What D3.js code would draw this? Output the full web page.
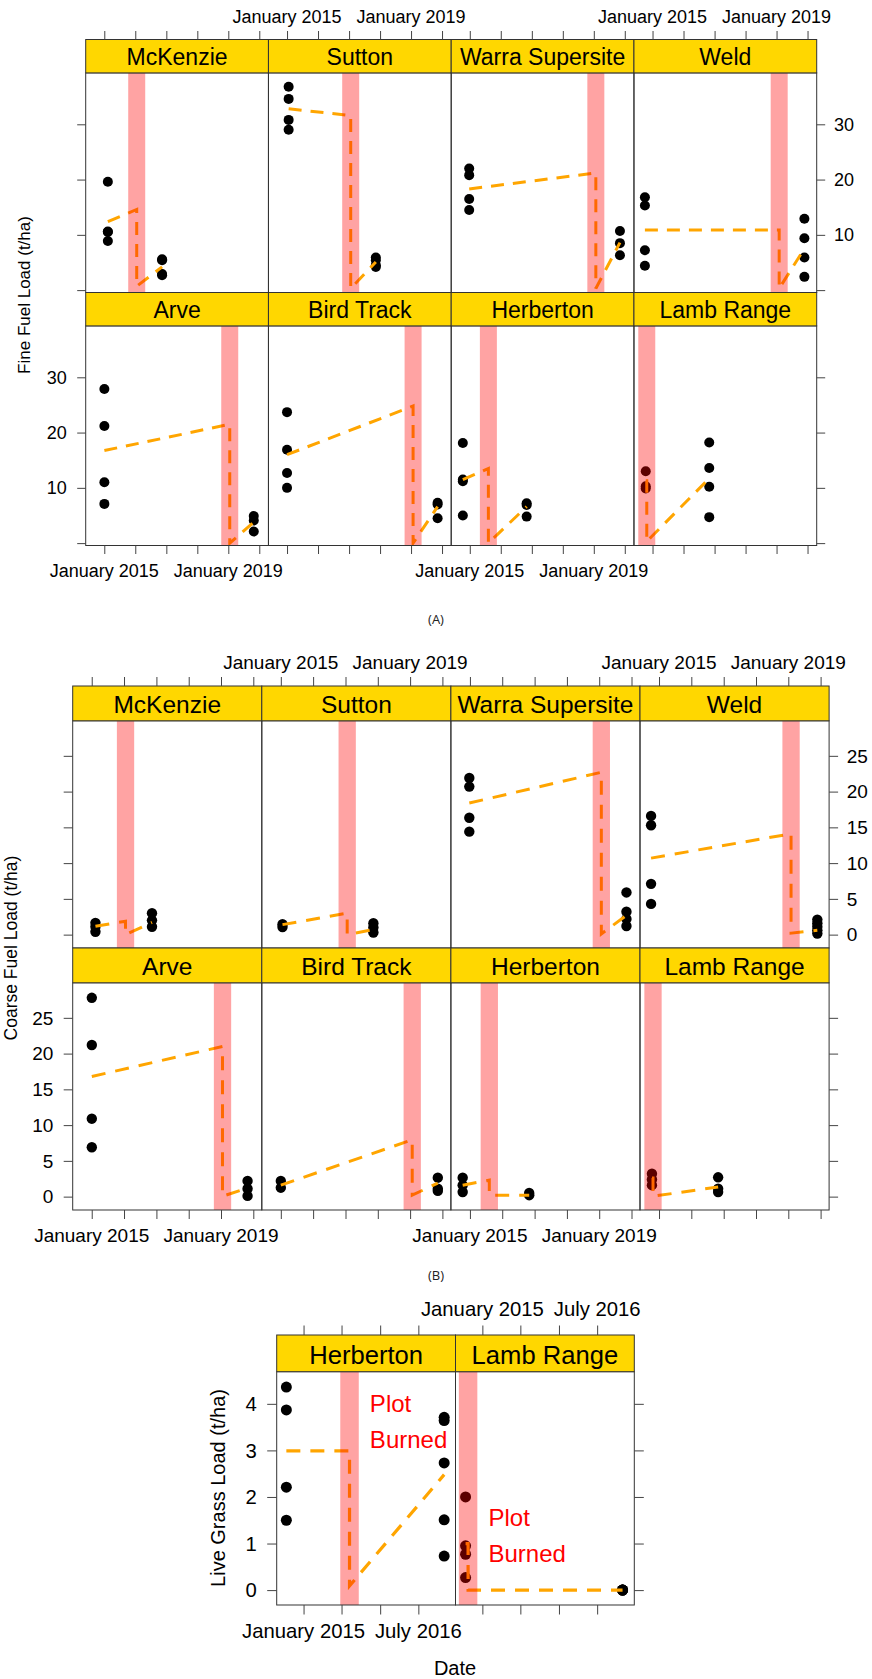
<!DOCTYPE html>
<html><head><meta charset="utf-8">
<script src="https://cdn.jsdelivr.net/npm/d3@7"></script>
<style>body{margin:0;background:#fff} svg{display:block}</style>
</head><body>
<svg id="chart" width="872" height="1679"></svg>
<script>
// ---------------- DATA ----------------
const sites = ["McKenzie","Sutton","Warra Supersite","Weld","Arve","Bird Track","Herberton","Lamb Range"];
const firstSample  = ["2015-02-12","2015-01-20","2014-12-25","2014-10-03","2015-01-02","2015-01-01","2014-10-11","2014-10-13"];
const secondSample = ["2016-11-12","2017-11-12","2019-11-05","2019-11-25","2019-10-28","2019-11-10","2016-11-01","2016-10-30"];
const fireDate     = ["2016-01-18","2017-01-20","2019-01-25","2019-02-01","2019-01-18","2019-01-25","2015-08-08","2014-10-25"];

const fineBefore = [
  [19.6, 10.6, 10.5, 8.9],
  [36.8, 34.6, 30.8, 29.0],
  [22.0, 20.8, 16.5, 14.5],
  [16.8, 15.3, 7.2, 4.4],
  [27.9, 21.2, 11.0, 7.1],
  [23.7, 16.9, 12.7, 10.0],
  [18.1, 11.5, 11.2, 5.0],
  [13.0, 10.3, 9.9]
];
const fineAfter = [
  [5.6, 5.4, 2.9, 2.7],
  [5.9, 5.4, 4.5, 4.2],
  [10.7, 8.5, 6.3],
  [12.9, 9.4, 5.9, 2.4],
  [4.9, 4.1, 2.1],
  [7.3, 7.0, 4.5],
  [7.2, 6.9, 4.8],
  [18.2, 13.6, 10.2, 4.7]
];
// trend line: [at first sample, just before fire, just after fire, at second sample]
const fineLine = [
  [12.4, 14.6, 0.7, 4.2],
  [32.8, 31.6, 0.3, 5.1],
  [18.3, 21.2, 0.3, 8.6],
  [10.9, 10.9, 0.3, 7.5],
  [16.75, 21.5, 0.0, 3.8],
  [16.0, 24.8, 0.0, 6.6],
  [11.5, 13.5, 0.0, 6.6],
  [11.3, 11.3, 0.3, 11.7]
];

const coarseBefore = [
  [1.65, 1.1, 0.4],
  [1.45, 1.05],
  [21.9, 20.7, 16.35, 14.4],
  [16.6, 15.3, 7.1, 4.3],
  [27.8, 21.2, 10.9, 6.9],
  [2.2, 1.25],
  [2.65, 1.6, 0.65],
  [3.2, 2.4, 1.6]
];
const coarseAfter = [
  [3.0, 2.0, 1.1],
  [1.6, 1.0, 0.3],
  [5.9, 3.2, 2.2, 1.2],
  [2.1, 1.6, 1.1, 0.6, 0.15],
  [2.2, 1.1, 0.1],
  [2.65, 1.1, 0.8],
  [0.5, 0.2],
  [2.7, 1.1, 0.65]
];
const coarseLine = [
  [1.16, 1.87, 0.0, 1.7],
  [1.4, 3.0, 0.0, 0.7],
  [18.4, 22.7, 0.1, 2.7],
  [10.7, 14.1, 0.2, 0.6],
  [16.8, 21.0, 0.05, 1.2],
  [1.6, 7.95, 0.2, 1.9],
  [1.6, 2.3, 0.2, 0.2],
  [2.6, 2.6, 0.05, 1.35]
];

const grassSites = ["Herberton","Lamb Range"];
const grassBefore = [[4.36, 3.87, 2.21, 1.5],[2.0, 0.95, 0.77, 0.27]];
const grassAfter  = [[3.71, 3.64, 2.73, 1.51, 0.73],[0, 0, 0, 0]];
const grassLine   = [[2.99, 2.99, 0.09, 2.48],[1.0, 1.0, 0.0, 0.0]];
const grassNoteDate  = ["2015-11-13","2015-01-30"];
const grassNoteValue = [3.62, 1.17];
const grassNoteLines = ["Plot","Burned"];

const fineYTicks   = [0, 10, 20, 30];
const fineYLabels  = ["", "10", "20", "30"];
const coarseYTicks = [0, 5, 10, 15, 20, 25];
const coarseYLabels = ["0","5","10","15","20","25"];
const grassYTicks  = [0, 1, 2, 3, 4];
const grassYLabels = ["0","1","2","3","4"];
const yearTicks    = ["2015-01-01","2016-01-01","2017-01-01","2018-01-01","2019-01-01","2020-01-01"];
const yearLabels   = ["January 2015","","","","January 2019",""];
const grassXTicks  = ["2015-01-01","2015-07-01","2016-01-01","2016-07-01"];
const grassXLabels = ["January 2015","","","July 2016"];

// ---------------- DRAWING ----------------
const parse = d3.timeParse("%Y-%m-%d");
const svg = d3.select("#chart").attr("font-family","'Liberation Sans', Arial, sans-serif");
const FONT = "'Liberation Sans', Arial, sans-serif";

function drawChart(cfg, d) {
  const g = svg.append("g");
  const x = d3.scaleTime().domain(cfg.xDomain.map(parse)).range([0, cfg.panelW]);
  const y = d3.scaleLinear().domain(cfg.yDomain).range([cfg.panelH, 0]);
  const rowStrip = r => cfg.top + r * (cfg.stripH + cfg.panelH);
  const rowPanel = r => rowStrip(r) + cfg.stripH;
  const bottomY = rowPanel(cfg.rows - 1) + cfg.panelH;
  const rightX = cfg.left + cfg.cols * cfg.panelW;
  const xTickDates = d.xTicks.map(parse);

  d.sites.forEach((site, i) => {
    const r = Math.floor(i / cfg.cols), c = i % cfg.cols;
    const px = cfg.left + c * cfg.panelW, py = rowPanel(r);
    const p = g.append("g").attr("transform", `translate(${px},${py})`);
    const clipId = cfg.id + "clip" + i;
    p.append("clipPath").attr("id", clipId).append("rect")
      .attr("width", cfg.panelW).attr("height", cfg.panelH);
    const inner = p.append("g").attr("clip-path", `url(#${clipId})`);
    const d1 = parse(d.first[i]), d2 = parse(d.second[i]), df = parse(d.fire[i]);

    inner.append("g").selectAll("circle").data(d.before[i]).join("circle")
      .attr("cx", x(d1)).attr("cy", v => y(v)).attr("r", cfg.r).attr("fill", "#000");
    inner.append("g").selectAll("circle").data(d.after[i]).join("circle")
      .attr("cx", x(d2)).attr("cy", v => y(v)).attr("r", cfg.r).attr("fill", "#000");

    const L = d.line[i];
    const pts = [[d1, L[0]], [df, L[1]], [df, L[2]], [d2, L[3]]];
    inner.append("path")
      .attr("d", d3.line().x(q => x(q[0])).y(q => y(q[1]))(pts))
      .attr("fill", "none").attr("stroke", "#FFA500").attr("stroke-width", cfg.lw)
      .attr("stroke-dasharray", cfg.dash);

    inner.append("rect")
      .attr("x", x(df) - cfg.bandW / 2).attr("y", 0)
      .attr("width", cfg.bandW).attr("height", cfg.panelH)
      .attr("fill", "#FF0000").attr("fill-opacity", 0.36);

    if (d.notes) {
      const t = inner.append("text").attr("fill", "#FF0000").attr("font-size", cfg.noteFont)
        .attr("font-family", FONT);
      const nx = x(parse(d.notes.date[i])), ny = y(d.notes.value[i]);
      d.notes.lines.forEach((ln, k) => {
        const off = (k - (d.notes.lines.length - 1) / 2) * cfg.noteLH;
        t.append("tspan").attr("x", nx).attr("y", ny + off + cfg.noteFont * 0.36).text(ln);
      });
    }

    p.append("rect").attr("width", cfg.panelW).attr("height", cfg.panelH)
      .attr("fill", "none").attr("stroke", "#333").attr("stroke-width", 1);

    const s = g.append("g").attr("transform", `translate(${px},${rowStrip(r)})`);
    s.append("rect").attr("width", cfg.panelW).attr("height", cfg.stripH)
      .attr("fill", "#FFD700").attr("stroke", "#333").attr("stroke-width", 1);
    s.append("text").attr("x", cfg.panelW / 2).attr("y", cfg.stripH / 2 + cfg.stripBase)
      .attr("text-anchor", "middle").attr("font-size", cfg.stripFont).attr("fill", "#000").text(site);
  });

  const styleAxis = sel => {
    sel.select(".domain").remove();
    sel.selectAll(".tick line").attr("stroke", "#444").attr("stroke-width", 1);
  };

  for (let c = 0; c < cfg.cols; c++) {
    const ox = cfg.left + c * cfg.panelW;
    g.append("g").attr("transform", `translate(${ox},${cfg.top})`)
      .call(d3.axisTop(x).tickValues(xTickDates).tickSize(cfg.tickLen).tickFormat("")).call(styleAxis);
    g.append("g").attr("transform", `translate(${ox},${bottomY})`)
      .call(d3.axisBottom(x).tickValues(xTickDates).tickSize(cfg.tickLen).tickFormat("")).call(styleAxis);
    const top = (c % 2 === 1);
    xTickDates.forEach((dt, k) => {
      if (!d.xLabels[k]) return;
      g.append("text").attr("x", ox + x(dt)).attr("y", top ? cfg.topLabelY : cfg.bottomLabelY)
        .attr("text-anchor", "middle").attr("font-size", cfg.tickFont).attr("fill", "#000")
        .text(d.xLabels[k]);
    });
  }

  for (let r = 0; r < cfg.rows; r++) {
    const oy = rowPanel(r);
    g.append("g").attr("transform", `translate(${cfg.left},${oy})`)
      .call(d3.axisLeft(y).tickValues(d.yTicks).tickSize(cfg.tickLen).tickFormat("")).call(styleAxis);
    g.append("g").attr("transform", `translate(${rightX},${oy})`)
      .call(d3.axisRight(y).tickValues(d.yTicks).tickSize(cfg.tickLen).tickFormat("")).call(styleAxis);
    const leftLab = (r === cfg.rows - 1);
    const rightLab = (r === 0 && cfg.rows > 1);
    d.yTicks.forEach((v, k) => {
      if (!d.yLabels[k]) return;
      if (leftLab) g.append("text").attr("x", cfg.left - cfg.leftGap).attr("y", oy + y(v))
        .attr("dy", "0.36em").attr("text-anchor", "end").attr("font-size", cfg.tickFont).text(d.yLabels[k]);
      if (rightLab) g.append("text").attr("x", rightX + cfg.rightGap).attr("y", oy + y(v))
        .attr("dy", "0.36em").attr("text-anchor", "start").attr("font-size", cfg.tickFont).text(d.yLabels[k]);
    });
  }

  g.append("text").attr("transform", `translate(${cfg.yTitleX},${cfg.yTitleY}) rotate(-90)`)
    .attr("text-anchor", "middle").attr("font-size", cfg.titleFont).attr("fill", "#000").text(cfg.yTitle);
  if (cfg.caption) {
    g.append("text").attr("x", 436).attr("y", cfg.captionY).attr("text-anchor", "middle")
      .attr("font-family", "'Open Sans', 'Noto Sans', sans-serif").attr("font-size", 13)
      .attr("fill", "#222").text(cfg.caption);
  }
  if (cfg.xTitle) {
    g.append("text").attr("x", cfg.xTitleX).attr("y", cfg.xTitleY).attr("text-anchor", "middle")
      .attr("font-size", cfg.titleFont).attr("fill", "#000").text(cfg.xTitle);
  }
}

// Chart A: fine fuel
drawChart({
  id: "A", left: 85.7, top: 39.5, panelW: 182.75, stripH: 33.4, panelH: 219.6, rows: 2, cols: 4,
  xDomain: ["2014-05-27", "2020-04-18"], yDomain: [-0.43, 39.3], bandW: 17, r: 5, lw: 3, dash: "13,9",
  stripFont: 23, stripBase: 9, tickFont: 18, tickLen: 8.5, topLabelY: 22.7, bottomLabelY: 576.7,
  leftGap: 19, rightGap: 17.3, titleFont: 17, yTitle: "Fine Fuel Load (t/ha)", yTitleX: 30, yTitleY: 295,
  caption: "(A)", captionY: 624
}, {
  sites: sites, first: firstSample, second: secondSample, fire: fireDate,
  before: fineBefore, after: fineAfter, line: fineLine,
  yTicks: fineYTicks, yLabels: fineYLabels, xTicks: yearTicks, xLabels: yearLabels
});

// Chart B: coarse fuel
drawChart({
  id: "B", left: 72.7, top: 686, panelW: 189.1, stripH: 34.8, panelH: 227.2, rows: 2, cols: 4,
  xDomain: ["2014-05-31", "2020-04-06"], yDomain: [-1.87, 29.9], bandW: 17.3, r: 5.2, lw: 3, dash: "14,10",
  stripFont: 24.5, stripBase: 9.4, tickFont: 19, tickLen: 9, topLabelY: 669.3, bottomLabelY: 1241.7,
  leftGap: 19.4, rightGap: 17.7, titleFont: 17.5, yTitle: "Coarse Fuel Load (t/ha)", yTitleX: 16.5, yTitleY: 948,
  caption: "(B)", captionY: 1280
}, {
  sites: sites, first: firstSample, second: secondSample, fire: fireDate,
  before: coarseBefore, after: coarseAfter, line: coarseLine,
  yTicks: coarseYTicks, yLabels: coarseYLabels, xTicks: yearTicks, xLabels: yearLabels
});

// Chart C: live grass
const gIdx = grassSites.map(s => sites.indexOf(s));
drawChart({
  id: "C", left: 276.7, top: 1335, panelW: 178.8, stripH: 36.7, panelH: 233.3, rows: 1, cols: 2,
  xDomain: ["2014-08-26", "2016-12-25"], yDomain: [-0.32, 4.69], bandW: 18.5, r: 5.5, lw: 3.2, dash: "14,10",
  stripFont: 25.6, stripBase: 10.5, tickFont: 20.3, tickLen: 9.5, topLabelY: 1316, bottomLabelY: 1638.3,
  leftGap: 20, rightGap: 18, titleFont: 20, yTitle: "Live Grass Load (t/ha)", yTitleX: 225, yTitleY: 1488,
  xTitle: "Date", xTitleX: 455, xTitleY: 1675, noteFont: 24, noteLH: 35.7
}, {
  sites: grassSites, first: gIdx.map(i => firstSample[i]), second: gIdx.map(i => secondSample[i]),
  fire: gIdx.map(i => fireDate[i]),
  before: grassBefore, after: grassAfter, line: grassLine,
  yTicks: grassYTicks, yLabels: grassYLabels, xTicks: grassXTicks, xLabels: grassXLabels,
  notes: { date: grassNoteDate, value: grassNoteValue, lines: grassNoteLines }
});
</script>
</body></html>
